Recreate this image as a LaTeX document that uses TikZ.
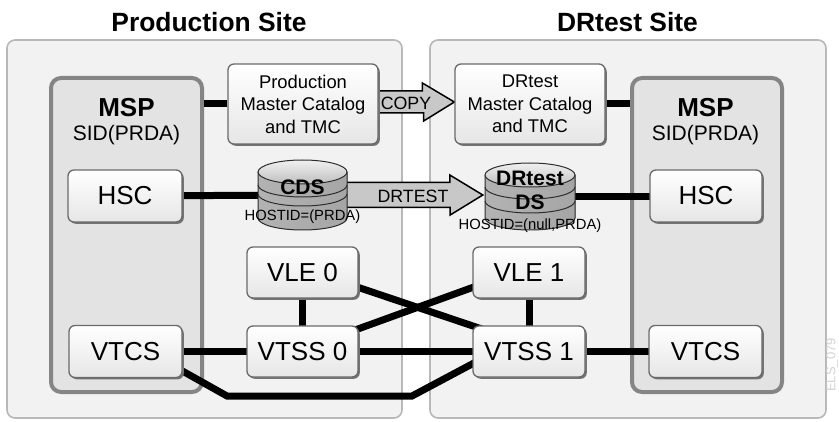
\documentclass[tikz,border=0pt]{standalone}
\usepackage{fontspec}
\setmainfont{Liberation Sans}
\usetikzlibrary{calc,shadows}
\definecolor{panelfill}{HTML}{F2F2F2}
\definecolor{panelborder}{HTML}{B8B8B8}
\definecolor{mspfill}{HTML}{E3E3E3}
\definecolor{mspborder}{HTML}{858585}
\definecolor{boxborder}{HTML}{6A6A6A}
\definecolor{boxbottom}{HTML}{E6E6E6}
\definecolor{arrowfill}{HTML}{C8C8C8}
\pgfdeclarelayer{panels}
\pgfdeclarelayer{lines}
\pgfsetlayers{panels,lines,main}
\tikzset{
  sitepanel/.style={draw=panelborder, line width=1.6pt, fill=panelfill, rounded corners=8pt, inner sep=0pt},
  mspbox/.style={draw=mspborder, line width=4pt, fill=mspfill, rounded corners=10pt, inner sep=0pt},
  unitbox/.style={draw=boxborder, line width=1.3pt, top color=white, bottom color=boxbottom,
    rounded corners=6pt, inner sep=0pt,
    drop shadow={shadow xshift=1.8pt, shadow yshift=-1.8pt, fill=black!55, opacity=1},
    font=\fontsize{26}{28}\selectfont},
  mcbox/.style={unitbox, font=\fontsize{18.4}{22.5}\selectfont, align=center},
  titletext/.style={font=\bfseries\fontsize{26.4}{28}\selectfont, inner sep=0pt},
  msptext/.style={font=\bfseries\fontsize{26}{28}\selectfont, inner sep=0pt},
  sidtext/.style={font=\fontsize{21}{23}\selectfont, inner sep=0pt},
  conn/.style={line width=7pt, draw=black},
  bigarrow/.style={draw=black, line width=1.5pt, fill=arrowfill, line join=miter},
  arrowtext/.style={font=\fontsize{17.8}{19}\selectfont, inner sep=0pt},
  cyltext/.style={font=\bfseries\fontsize{21}{23}\selectfont, inner sep=0pt},
  hosttext/.style={font=\fontsize{14.8}{16}\selectfont, inner sep=0pt},
  cylbody/.style={left color=gray!60, middle color=gray!12, right color=gray!70},
  cylline/.style={draw=gray!35!black, line width=1pt},
  cylanchor/.style={inner sep=0pt}
}
\newcommand\mycyl[6]{%
  \fill[cylbody] ({#1-#4},#2) -- ({#1-#4},#3) arc[start angle=180,end angle=360,x radius=#4,y radius=12] -- ({#1+#4},#2) -- cycle;
  \draw[cylline] ({#1-#4},#5) arc[start angle=180,end angle=360,x radius=#4,y radius=12];
  \draw[cylline] ({#1-#4},#6) arc[start angle=180,end angle=360,x radius=#4,y radius=12];
  \draw[cylline] ({#1-#4},#2) -- ({#1-#4},#3) arc[start angle=180,end angle=360,x radius=#4,y radius=12] -- ({#1+#4},#2);
  \draw[cylline, top color=gray!12, bottom color=gray!50] (#1,#2) ellipse[x radius=#4,y radius=12];
}
\begin{document}
\begin{tikzpicture}[x=1pt,y=1pt]
\useasboundingbox (0,0) rectangle (839,421);

% titles
\node[titletext] (prodtitle) at (209,399) {Production Site};
\node[titletext] (drtitle) at (627.5,399) {DRtest Site};

% background panels
\begin{pgfonlayer}{panels}
\node[sitepanel, minimum width=395pt, minimum height=378pt] (prodsite) at (204.5,192) {};
\node[sitepanel, minimum width=396pt, minimum height=378pt] (drsite) at (628,192) {};
\node[mspbox, minimum width=151pt, minimum height=314pt] (mspL) at (126.5,186) {};
\node[mspbox, minimum width=150pt, minimum height=314pt] (mspR) at (707,186) {};
\end{pgfonlayer}

% MSP labels
\node[msptext] (mspLtitle) at (126.5,313) {MSP};
\node[sidtext] (mspLsid) at (126.5,286) {SID(PRDA)};
\node[msptext] (mspRtitle) at (705.5,313) {MSP};
\node[sidtext] (mspRsid) at (705.5,286) {SID(PRDA)};

% unit boxes
\node[unitbox, minimum width=114pt, minimum height=52pt] (hscL) at (125,225) {HSC};
\node[unitbox, minimum width=112pt, minimum height=52pt] (hscR) at (706,225) {HSC};
\node[unitbox, minimum width=113pt, minimum height=52pt] (vtcsL) at (125.5,69.5) {VTCS};
\node[unitbox, minimum width=113pt, minimum height=52pt] (vtcsR) at (705.5,69.5) {VTCS};
\node[unitbox, minimum width=111pt, minimum height=51pt] (vle0) at (302.5,148.5) {VLE 0};
\node[unitbox, minimum width=111pt, minimum height=51pt] (vtss0) at (302.5,69.5) {VTSS 0};
\node[unitbox, minimum width=112pt, minimum height=51pt] (vle1) at (529,148.5) {VLE 1};
\node[unitbox, minimum width=112pt, minimum height=51pt] (vtss1) at (529,69.5) {VTSS 1};
\node[mcbox, minimum width=150pt, minimum height=80pt] (mcP) at (303,317) {Production\\Master Catalog\\and TMC};
\node[mcbox, minimum width=150pt, minimum height=80pt] (mcD) at (530,317) {DRtest\\Master Catalog\\and TMC};

% cylinder anchors
\node[cylanchor, minimum width=89pt, minimum height=70pt] (cds) at (302.5,226) {};
\node[cylanchor, minimum width=90pt, minimum height=67pt] (ds) at (530,224.5) {};

% connectors and transfer arrows
\begin{pgfonlayer}{lines}
\draw[conn] (mspL.east |- mcP.west) -- (mcP.west);
\draw[conn] (mcD.east) -- (mspR.west |- mcD.east);
\draw[conn] (hscL.center) -- (cds.center);
\draw[conn] (ds.center) -- (ds.center -| hscR.center);
\draw[conn] (vle0.center) -- (vtss0.center);
\draw[conn] (vle1.center) -- (vtss1.center);
\draw[conn] (vtcsL.center) -- (vtss0.center) -- (vtss1.center) -- (vtcsR.center);
\draw[conn] ($(vle0.south east)+(-9.4,14.3)$) -- ($(vtss1.north west)+(11.4,-4.3)$);
\draw[conn] ($(vtss0.north east)+(-11.4,-7.5)$) -- ($(vle1.south west)+(9.4,14.5)$);
\coordinate (loopA) at (227,25);
\coordinate (loopB) at (412,25);
\draw[conn, line join=miter] ($(vtcsL.south east)+(-8.7,11.9)$) -- (loopA) -- (loopB) -- ($(vtss1.south west)+(10.9,19.6)$);
% COPY arrow
\draw[bigarrow] ($(mcP.east)+(-8,-9)$) -- ++(53,0) -- ++(0,-8) -- ($(mcD.west)+(0,2)$) -- ++(-32,19) -- ++(0,-8) -- ++(-53,0) -- cycle;
% DRTEST arrow
\draw[bigarrow] ($(cds.east)+(-10,-12.5)$) -- ++(113,0) -- ++(0,-7.5) -- ($(ds.west)+(-2,1.5)$) -- ++(-33,20) -- ++(0,-7.5) -- ++(-113,0) -- cycle;
\end{pgfonlayer}
\node[arrowtext] (copytext) at (406,318) {COPY};
\node[arrowtext] (drtesttext) at (413,225) {DRTEST};

% cylinders
\mycyl{302.5}{249}{203}{44.5}{236}{227}
\mycyl{530}{246}{203}{45}{234}{220}
\node[cyltext] (cdstext) at (302.5,234) {CDS};
\node[hosttext] (cdshost) at (302.5,204) {HOSTID=(PRDA)};
\node[cyltext] (dstext1) at (530,243) {DRtest};
\node[cyltext] (dstext2) at (530,219) {DS};
\node[hosttext] (dshost) at (530,195) {HOSTID=(null,PRDA)};

% figure id
\node[rotate=90, text=gray!35, font=\fontsize{13}{13}\selectfont, inner sep=0pt] (figid) at (832,56) {ELS\_079};
\end{tikzpicture}
\end{document}
